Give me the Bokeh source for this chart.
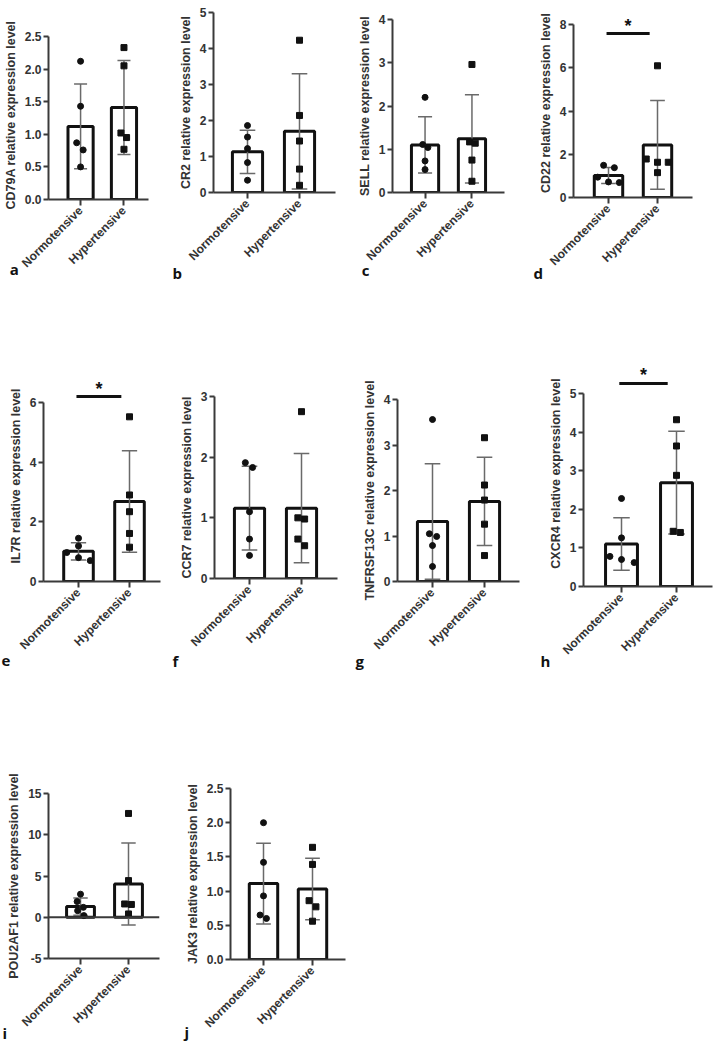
import math
from bokeh.plotting import figure
from bokeh.layouts import row, column
from bokeh.models import Range1d, FixedTicker, NumeralTickFormatter, Span, Label
from bokeh.core.properties import value
from bokeh.embed import file_html
from bokeh.resources import INLINE

# ---------------- data ----------------
CATEGORIES = ["Normotensive", "Hypertensive"]
GENES = ["CD79A", "CR2", "SELL", "CD22", "IL7R", "CCR7", "TNFRSF13C", "CXCR4", "POU2AF1", "JAK3"]
LETTERS = ["a", "b", "c", "d", "e", "f", "g", "h", "i", "j"]

# bar means and SD: [Normotensive, Hypertensive]
MEANS = {
    "CD79A": [1.12, 1.41], "CR2": [1.13, 1.70], "SELL": [1.10, 1.24], "CD22": [1.02, 2.43],
    "IL7R": [1.01, 2.68], "CCR7": [1.16, 1.16], "TNFRSF13C": [1.32, 1.76], "CXCR4": [1.10, 2.69],
    "POU2AF1": [1.29, 4.03], "JAK3": [1.11, 1.03],
}
SDS = {
    "CD79A": [0.65, 0.72], "CR2": [0.60, 1.60], "SELL": [0.65, 1.02], "CD22": [0.37, 2.05],
    "IL7R": [0.29, 1.70], "CCR7": [0.69, 0.90], "TNFRSF13C": [1.27, 0.97], "CXCR4": [0.68, 1.33],
    "POU2AF1": [1.05, 4.98], "JAK3": [0.59, 0.45],
}
NORMO = {
    "CD79A": [2.12, 1.43, 0.87, 0.76, 0.50],
    "CR2": [1.86, 1.54, 1.22, 0.83, 0.34],
    "SELL": [2.20, 1.11, 1.04, 0.73, 0.53],
    "CD22": [1.49, 1.38, 0.94, 0.72, 0.69],
    "IL7R": [1.45, 1.19, 0.97, 0.80, 0.70],
    "CCR7": [1.91, 1.83, 1.10, 0.65, 0.38],
    "TNFRSF13C": [3.56, 1.05, 0.99, 0.79, 0.33],
    "CXCR4": [2.28, 1.26, 0.78, 0.70, 0.62],
    "POU2AF1": [2.80, 1.90, 1.20, 0.80, 0.20],
    "JAK3": [2.00, 1.42, 0.93, 0.65, 0.60],
}
HYPER = {
    "CD79A": [2.33, 2.05, 1.02, 0.95, 0.77],
    "CR2": [4.23, 2.14, 1.43, 0.65, 0.20],
    "SELL": [2.96, 1.17, 1.14, 0.75, 0.26],
    "CD22": [6.09, 1.78, 1.63, 1.63, 1.15],
    "IL7R": [5.52, 2.90, 2.34, 1.61, 1.15],
    "CCR7": [2.75, 1.00, 0.98, 0.65, 0.54],
    "TNFRSF13C": [3.16, 2.12, 1.79, 1.26, 0.57],
    "CXCR4": [4.32, 3.64, 2.88, 1.43, 1.40],
    "POU2AF1": [12.58, 4.44, 1.61, 1.55, 0.40],
    "JAK3": [1.64, 1.39, 0.86, 0.77, 0.56],
}
Y_TICKS = {
    "CD79A": [0, 0.5, 1.0, 1.5, 2.0, 2.5], "CR2": [0, 1, 2, 3, 4, 5], "SELL": [0, 1, 2, 3, 4],
    "CD22": [0, 2, 4, 6, 8], "IL7R": [0, 2, 4, 6], "CCR7": [0, 1, 2, 3], "TNFRSF13C": [0, 1, 2, 3, 4],
    "CXCR4": [0, 1, 2, 3, 4, 5], "POU2AF1": [-5, 0, 5, 10, 15], "JAK3": [0, 0.5, 1.0, 1.5, 2.0, 2.5],
}
SIGNIFICANT = {"CD22": "*", "IL7R": "*", "CXCR4": "*"}

# ---------------- layout / style (not data) ----------------
JITTER_N = {
    "CD79A": [0, 0, -0.09, 0.06, 0], "CR2": [0, 0, 0, 0, 0], "SELL": [0, -0.05, 0.06, 0, 0],
    "CD22": [-0.1, 0.12, -0.22, 0, 0.22], "IL7R": [0, 0, -0.23, 0, 0.23], "CCR7": [-0.08, 0.06, 0, 0, 0],
    "TNFRSF13C": [0, -0.06, 0.08, 0, 0], "CXCR4": [0, 0, -0.21, 0, 0.23],
    "POU2AF1": [0, -0.07, 0.06, -0.06, 0.07], "JAK3": [0, 0, 0, -0.07, 0.06],
}
JITTER_H = {
    "CD79A": [0, 0, -0.07, 0.06, 0], "CR2": [0, 0, 0, 0, 0], "SELL": [0, -0.05, 0.07, 0, 0],
    "CD22": [0, -0.23, 0, 0.22, 0], "IL7R": [0, 0, 0, 0, 0], "CCR7": [0, -0.07, 0.06, -0.07, 0.06],
    "TNFRSF13C": [0, 0, 0, 0, 0], "CXCR4": [0, 0, 0, -0.06, 0.07],
    "POU2AF1": [0, 0, -0.08, 0.06, 0], "JAK3": [0, 0, -0.07, 0.07, 0],
}
SIG_Y = {"CD22": 7.58, "IL7R": 6.2, "CXCR4": 5.26}

ROW_TOP = [0, 290, 675]
ROW_H = [290, 385, 368]
# per panel: row, fig_left, fig_width, frame L, R, bar1 px, bar2 px, frame top, top tick px,
#            bottom px, letter x, letter y, side panel used for the letter
LAYOUT = {
    "CD79A": (0, 0, 170, 42, 148, 76, 122, 30, 36, 199, 1, 268, "right"),
    "CR2": (0, 170, 184, 213, 335, 247, 299, 12, 12, 192, 172, 272, "right"),
    "SELL": (0, 354, 177, 387, 504, 421, 470, 19, 19, 192, 355, 269, "right"),
    "CD22": (0, 531, 185, 573, 692, 608, 657, 8, 24, 197, 533, 272, "right"),
    "IL7R": (1, 0, 170, 43, 160, 78, 129, 370, 402, 581, 1, 660, "above"),
    "CCR7": (1, 170, 184, 214, 337, 249, 301, 396, 396, 578, 172, 660, "above"),
    "TNFRSF13C": (1, 354, 177, 397, 519, 432, 484, 399, 399, 581, 355, 660, "above"),
    "CXCR4": (1, 531, 185, 583, 712, 621, 676, 360, 393, 586, 540, 660, "above"),
    "POU2AF1": (2, 0, 170, 48, 159, 80, 128, 793, 793, 958, 2, 1032, "above"),
    "JAK3": (2, 170, 200, 230, 345, 263, 312, 788, 788, 959, 184, 1031, "above"),
}

FONT = "Liberation Sans"
TXT = "#333333"
AX = "#3a3a3a"


def make_panel(gene, letter):
    r, fl, fw, L, R, X1, X2, Tf, Tt, B, lx, ly, lside = LAYOUT[gene]
    top, H = ROW_TOP[r], ROW_H[r]
    ticks = Y_TICKS[gene]
    ymin, ymax = ticks[0], ticks[-1]
    spx = X2 - X1
    xs = -(X1 - L) / spx
    xe = 1 + (R - X2) / spx
    upp = (ymax - ymin) / (B - Tt)
    ye = ymax + (Tt - Tf) * upp

    p = figure(width=fw, height=H, x_range=Range1d(xs, xe), y_range=Range1d(ymin, ye),
               output_backend="svg", toolbar_location=None, title=None,
               min_border_left=L - fl, min_border_right=fl + fw - R,
               min_border_top=Tf - top, min_border_bottom=top + H - B)
    p.frame_align = False
    p.outline_line_color = None
    p.grid.visible = False
    p.background_fill_color = "white"
    p.border_fill_color = "white"

    xpos = list(range(len(CATEGORIES)))
    xa = p.xaxis[0]
    xa.axis_label = None
    xa.ticker = FixedTicker(ticks=xpos, minor_ticks=[])
    xa.major_label_overrides = {i: c for i, c in enumerate(CATEGORIES)}
    xa.major_label_orientation = math.pi / 4
    xa.major_label_text_font = FONT
    xa.major_label_text_font_style = "bold"
    xa.major_label_text_font_size = "12px"
    xa.major_label_text_color = TXT
    xa.major_label_standoff = 3
    xa.axis_line_color = AX
    xa.axis_line_width = 2
    xa.major_tick_line_color = AX
    xa.major_tick_line_width = 2
    xa.major_tick_out = 6
    xa.major_tick_in = 0
    xa.minor_tick_line_color = None

    ya = p.yaxis[0]
    ya.ticker = FixedTicker(ticks=ticks, minor_ticks=[])
    ya.formatter = NumeralTickFormatter(format="0.0" if any(t != int(t) for t in ticks) else "0")
    ya.bounds = (ymin, ymax)
    ya.axis_label = f"{gene} relative expression level"
    ya.axis_label_text_font = FONT
    ya.axis_label_text_font_style = "bold"
    ya.axis_label_text_font_size = "12.5px"
    ya.axis_label_text_color = TXT
    ya.axis_label_standoff = 4
    ya.major_label_text_font = FONT
    ya.major_label_text_font_style = "bold"
    ya.major_label_text_font_size = "12px"
    ya.major_label_text_color = TXT
    ya.major_label_standoff = 2
    ya.axis_line_color = AX
    ya.axis_line_width = 2
    ya.major_tick_line_color = AX
    ya.major_tick_line_width = 2
    ya.major_tick_out = 5
    ya.major_tick_in = 0
    ya.minor_tick_line_color = None

    if ymin < 0:
        p.add_layout(Span(location=0, dimension="width", line_color=AX, line_width=2))

    means = MEANS[gene]
    sds = SDS[gene]
    p.vbar(x=xpos, top=means, bottom=0, width=0.58, fill_color="white",
           line_color="#111111", line_width=3)
    lo = [m - s for m, s in zip(means, sds)]
    hi = [m + s for m, s in zip(means, sds)]
    p.segment(x0=xpos, y0=lo, x1=xpos, y1=hi, line_color="#6a6a6a", line_width=1.5)
    cap = 0.15
    p.segment(x0=[x - cap for x in xpos], y0=lo, x1=[x + cap for x in xpos], y1=lo,
              line_color="#6a6a6a", line_width=1.5)
    p.segment(x0=[x - cap for x in xpos], y0=hi, x1=[x + cap for x in xpos], y1=hi,
              line_color="#6a6a6a", line_width=1.5)

    p.scatter(x=[xpos[0] + j for j in JITTER_N[gene]], y=NORMO[gene], marker="circle",
              size=6, fill_color="#111111", line_color="#111111")
    p.scatter(x=[xpos[1] + j for j in JITTER_H[gene]], y=HYPER[gene], marker="square",
              size=6, fill_color="#111111", line_color="#111111")

    if gene in SIGNIFICANT:
        ys = SIG_Y[gene]
        p.line(x=[xpos[0] - 0.04, xpos[1] - 0.16], y=[ys, ys], line_color="#111111", line_width=3)
        p.text(x=[(xpos[0] + xpos[1]) * 0.4], y=[ys], text=[SIGNIFICANT[gene]],
               text_align="center", text_baseline="alphabetic", y_offset=-8,
               text_font=value(FONT), text_font_style="bold", text_font_size="18px",
               text_color="#111111")

    # panel letter (in a side panel so that it is not clipped to the frame)
    lx_d = xs + (lx - L) / (R - L) * (xe - xs)
    ly_d = ymin + (B - ly) / (B - Tf) * (ye - ymin)
    p.add_layout(Label(x=lx_d, y=ly_d, text=letter, text_font="Open Sans",
                       text_font_style="bold", text_font_size="15px", text_color="#111111",
                       text_baseline="middle", text_align="left"), lside)
    return p


panels = [make_panel(g, l) for g, l in zip(GENES, LETTERS)]
layout = column(
    row(panels[0:4], spacing=0),
    row(panels[4:8], spacing=0),
    row(panels[8:10], spacing=0),
    spacing=0,
)

open("out.html", "w").write(file_html(layout, INLINE))
